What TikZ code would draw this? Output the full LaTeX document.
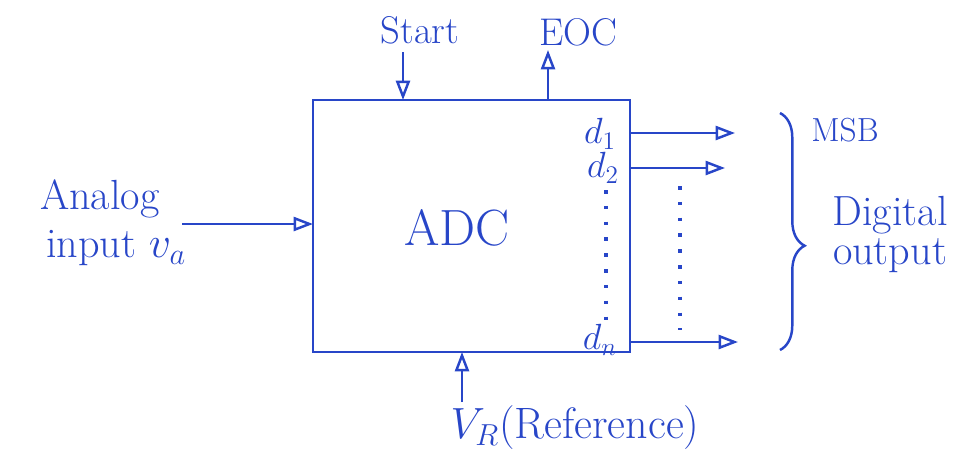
\documentclass[tikz,border=0pt]{standalone}
\usepackage{tikz}
\usetikzlibrary{arrows.meta, positioning, decorations.pathreplacing}
\definecolor{penBlue}{RGB}{40,70,200}

\begin{document}
\begin{tikzpicture}[
    x=0.02cm, y=-0.02cm,
    adcbox/.style={draw=penBlue, line width=1.4pt, rectangle, minimum width=6.34cm, minimum height=5.04cm, inner sep=0pt},
    lbl/.style={text=penBlue, inner sep=1pt},
    sig/.style={-{Triangle[open, length=11pt, width=8pt]}, line width=1.4pt, draw=penBlue},
    dots/.style={draw=penBlue, line width=1.8pt, dash pattern=on 2pt off 7pt}
]
\useasboundingbox (0,0) rectangle (968,458);

% Converter block
\node (adc) [adcbox] at (471.5,226) {};
\node (adctxt) [lbl, font=\fontsize{29}{31}\selectfont] at (457,228) {ADC};

% Control and reference signals
\node (start) [lbl, font=\fontsize{22}{24}\selectfont] at (420,30) {Start};
\node (eoc) [lbl, font=\fontsize{22}{24}\selectfont] at (578,32) {EOC};
\node (vref) [lbl, font=\fontsize{25}{27}\selectfont] at (575,428) {$V_R$(Reference)};
\coordinate (startin) at (403,100);
\coordinate (eocout) at (548,100);
\coordinate (vrefin) at (462,352);
\coordinate (startsrc) at (403,52);
\coordinate (eoctip) at (548,50);
\coordinate (vrefsrc) at (462,402);

% Analog input
\node (analog) [lbl, font=\fontsize{24}{26}\selectfont, anchor=west] at (38,199) {Analog};
\node (input) [lbl, font=\fontsize{24}{26}\selectfont, anchor=west] at (44,248) {input $v_a$};
\coordinate (ainsrc) at (182,224);
\coordinate (ain) at (313,224);

% Output bits
\node (d1) [lbl, font=\fontsize{20}{22}\selectfont] at (600,134) {$d_1$};
\node (d2) [lbl, font=\fontsize{20}{22}\selectfont] at (603,168) {$d_2$};
\node (dn) [lbl, font=\fontsize{20}{22}\selectfont] at (600,340) {$d_n$};
\coordinate (d1out) at (630,133);
\coordinate (d2out) at (630,168);
\coordinate (dnout) at (630,342);
\coordinate (d1end) at (735,133);
\coordinate (d2end) at (725,168);
\coordinate (dnend) at (738,342);

% Output labels
\node (msb) [lbl, font=\fontsize{19}{21}\selectfont] at (845,130) {MSB};
\node (digital) [lbl, font=\fontsize{24}{26}\selectfont] at (890,215) {Digital};
\node (output) [lbl, font=\fontsize{24}{26}\selectfont] at (890,256) {output};
\coordinate (bracetop) at (780,113);
\coordinate (bracebot) at (780,350);

% Connections
\draw [sig] (startsrc) -- (startin);
\draw [sig] (eocout) -- (eoctip);
\draw [sig] (vrefsrc) -- (vrefin);
\draw [sig] (ainsrc) -- (ain);
\draw [sig] (d1out) -- (d1end);
\draw [sig] (d2out) -- (d2end);
\draw [sig] (dnout) -- (dnend);

\draw [dots] (606,190) -- (606,324);
\draw [dots] (680,186) -- (680,330);

\draw [draw=penBlue, line width=1.4pt, decorate, decoration={brace, amplitude=14pt, aspect=0.56}] (bracetop) -- (bracebot);

\end{tikzpicture}
\end{document}
